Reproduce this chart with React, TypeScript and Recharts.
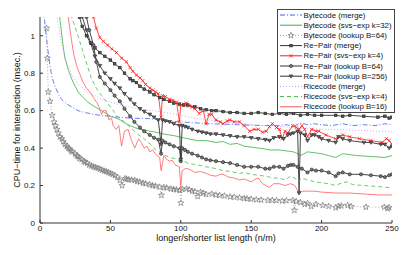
import React from 'react';
import { LineChart, Line, XAxis, YAxis, Legend } from 'recharts';

type Pt = [number, number];

const xTicks = [0, 50, 100, 150, 200, 250];
const yTicks = [0, 0.2, 0.4, 0.6, 0.8, 1];

const seriesNames = [
  'Bytecode (merge)',
  'Bytecode (svs−exp k=32)',
  'Bytecode (lookup B=64)',
  'Re−Pair (merge)',
  'Re−Pair (svs−exp k=4)',
  'Re−Pair (lookup B=64)',
  'Re−Pair (lookup B=256)',
  'Ricecode (merge)',
  'Ricecode (svs−exp k=4)',
  'Ricecode (lookup B=16)',
];

// [n/m, msec]
const bytecodeMerge: Pt[] = [[2.2,1.3],[3,1.1],[4.7,0.98],[6,0.9],[7.1,0.84],[8.5,0.78],[10.6,0.73],[13,0.69],[15.4,0.66],[19,0.635],[22.5,0.62],[27,0.6],[31.9,0.59],[38,0.58],[43.7,0.574],[50,0.57],[55,0.565],[65,0.56],[78,0.557],[90,0.545],[100,0.54],[110,0.535],[118,0.53],[130,0.528],[140,0.525],[150,0.522],[160,0.52],[170,0.52],[175,0.525],[180,0.515],[185,0.535],[190,0.525],[195,0.53],[200,0.525],[207,0.52],[215,0.53],[222,0.52],[230,0.525],[238,0.52],[245,0.53],[250,0.525]];

const bytecodeSvs: Pt[] = [[12,1.3],[14,1.1],[16,0.97],[17.7,0.88],[20,0.82],[22.5,0.77],[25,0.73],[27,0.7],[30,0.675],[34,0.645],[38,0.625],[43.7,0.6],[47,0.585],[50,0.57],[54,0.56],[57,0.55],[60,0.535],[64,0.52],[67,0.51],[71,0.5],[75,0.495],[78,0.49],[82,0.485],[85,0.48],[88,0.475],[92,0.47],[96,0.465],[99,0.46],[102,0.455],[105,0.45],[112,0.44],[118,0.44],[125,0.43],[130,0.435],[135,0.42],[140,0.425],[145,0.41],[150,0.405],[155,0.4],[160,0.395],[163,0.39],[170,0.39],[175,0.385],[180,0.38],[183,0.37],[185,0.36],[190,0.38],[195,0.375],[200,0.37],[205,0.36],[210,0.35],[215,0.37],[225,0.36],[235,0.355],[245,0.35],[250,0.36]];

const bytecodeLookup: Pt[] = [[4.7,1.04],[5.2,0.88],[5.9,0.7],[7.1,0.65],[8.7,0.575],[10,0.54],[11,0.52],[12,0.5],[13,0.48],[14.2,0.46],[15.5,0.45],[16.5,0.435],[17.7,0.42],[19,0.41],[20,0.4],[21,0.395],[22,0.385],[23,0.38],[24.8,0.37],[26,0.36],[27,0.355],[28,0.345],[29.5,0.34],[31,0.33],[32,0.325],[33.5,0.32],[35,0.31],[36.5,0.305],[38,0.3],[39.5,0.297],[41,0.293],[42.5,0.288],[44,0.283],[45.5,0.278],[47,0.275],[48.5,0.27],[50,0.265],[51.5,0.26],[53.2,0.254],[55,0.245],[56.7,0.228],[58.3,0.2],[60.2,0.237],[61.5,0.235],[63,0.232],[65,0.23],[67.3,0.228],[69,0.222],[70.9,0.219],[73.2,0.213],[75,0.21],[78,0.205],[80,0.2],[82,0.198],[85,0.192],[86.2,0.148],[88,0.19],[90,0.188],[93,0.182],[95,0.18],[97,0.178],[99.2,0.174],[100,0.107],[101,0.18],[104,0.183],[106,0.178],[108,0.17],[110,0.168],[112,0.142],[114,0.165],[116,0.16],[118,0.153],[122,0.155],[125,0.15],[127.6,0.148],[131,0.145],[135,0.14],[138,0.138],[141.7,0.135],[145,0.132],[147,0.13],[150,0.128],[153.6,0.125],[157,0.123],[161.8,0.121],[165,0.122],[168,0.12],[172,0.118],[175,0.12],[179.5,0.121],[180.7,0.068],[182,0.115],[185,0.11],[188,0.1],[190,0.105],[192.6,0.089],[196,0.1],[200.8,0.094],[205,0.09],[210,0.082],[212,0.09],[214,0.092],[218.5,0.094],[221,0.088],[231.5,0.085],[244.5,0.085],[246.9,0.077],[248,0.083]];

const rePairMerge: Pt[] = [[26,1.25],[28,1.1],[30,1.05],[33,1.0],[36,0.96],[39,0.935],[42.5,0.91],[46,0.89],[50,0.87],[53,0.85],[56.7,0.83],[60,0.8],[64,0.77],[66,0.76],[68.5,0.75],[71,0.73],[74,0.715],[78,0.7],[81,0.685],[85,0.67],[88,0.66],[92,0.65],[95,0.64],[99,0.635],[102,0.63],[105,0.63],[110,0.62],[114,0.61],[118,0.605],[122,0.6],[125,0.6],[130,0.595],[135,0.59],[140,0.59],[145,0.585],[150,0.585],[155,0.59],[160,0.585],[165,0.58],[170,0.585],[175,0.58],[180,0.585],[185,0.575],[190,0.58],[195,0.575],[200,0.575],[210,0.575],[215,0.57],[220,0.575],[230,0.57],[240,0.565],[245,0.57],[248,0.56],[250,0.565]];

const rePairSvs: Pt[] = [[36,1.25],[38,1.1],[40,1.04],[42.5,0.99],[45,0.97],[48,0.95],[51,0.93],[54.3,0.91],[58,0.88],[61.4,0.86],[64,0.83],[66,0.81],[68.5,0.79],[71,0.775],[73,0.76],[75,0.74],[78,0.72],[80,0.71],[82,0.7],[84,0.69],[86,0.565],[87,0.68],[89,0.675],[92,0.66],[94.5,0.655],[97,0.645],[99,0.54],[100,0.63],[102,0.635],[104,0.64],[106,0.625],[108,0.62],[110,0.61],[113,0.585],[116,0.6],[118,0.53],[120,0.58],[122,0.58],[125,0.55],[128,0.54],[130,0.53],[133,0.545],[135,0.55],[138,0.54],[141.7,0.54],[145,0.52],[149,0.49],[152,0.5],[155,0.5],[158,0.485],[160.7,0.49],[163,0.515],[165,0.53],[168,0.51],[170,0.5],[172,0.45],[174,0.49],[176,0.48],[179.5,0.52],[182,0.51],[184,0.5],[186,0.52],[188,0.5],[190,0.46],[193,0.5],[196,0.49],[198,0.49],[203,0.47],[210,0.45],[215,0.47],[220,0.46],[227,0.45],[235,0.44],[243,0.43],[246,0.45],[248,0.44],[250,0.42]];

const rePairLookup64: Pt[] = [[31,1.3],[33,1.1],[35,1.03],[38,0.95],[40,0.86],[42.5,0.78],[46,0.745],[50,0.71],[53,0.68],[56.7,0.65],[60,0.61],[64,0.57],[67,0.54],[71,0.51],[74,0.49],[78,0.47],[81,0.455],[84,0.445],[86,0.37],[87,0.44],[89,0.43],[92,0.42],[95,0.41],[99,0.4],[100,0.33],[101,0.4],[103,0.39],[105,0.38],[108,0.37],[112,0.36],[115,0.35],[118,0.34],[121,0.335],[125,0.33],[130,0.325],[135,0.32],[140,0.31],[145,0.3],[150,0.3],[155,0.3],[160,0.29],[163,0.29],[166,0.3],[170,0.3],[173,0.29],[176,0.305],[178,0.31],[180,0.31],[183,0.3],[186,0.29],[190,0.27],[193,0.285],[196,0.28],[200,0.28],[205,0.27],[210,0.25],[212,0.265],[215,0.27],[220,0.26],[228,0.26],[235,0.255],[242,0.25],[245,0.245],[248,0.255],[250,0.26]];

const rePairLookup256: Pt[] = [[28,1.3],[30,1.1],[33,1.03],[36,0.96],[39,0.89],[42.5,0.84],[46,0.8],[50,0.77],[53,0.745],[56.7,0.72],[60,0.69],[64,0.66],[67,0.635],[71,0.61],[74,0.595],[78,0.58],[81,0.565],[84,0.55],[86,0.42],[87,0.55],[89,0.545],[92,0.54],[95,0.53],[99,0.52],[100,0.34],[101,0.52],[103,0.515],[105,0.51],[108,0.5],[112,0.49],[115,0.485],[118,0.48],[121,0.475],[125,0.475],[130,0.47],[135,0.465],[140,0.46],[145,0.46],[150,0.455],[155,0.45],[160,0.445],[163,0.44],[166,0.455],[170,0.46],[173,0.45],[176,0.47],[178,0.475],[180,0.48],[183,0.49],[184,0.16],[185,0.48],[188,0.47],[190,0.44],[193,0.47],[195,0.47],[198,0.46],[200,0.45],[205,0.44],[210,0.43],[212,0.46],[215,0.45],[220,0.44],[230,0.43],[235,0.43],[242,0.42],[245,0.42],[248,0.4],[250,0.41]];

const riceMerge: Pt[] = [[10,1.3],[12,1.1],[15,0.97],[18,0.88],[22,0.8],[27,0.74],[34,0.7],[40,0.675],[44,0.66],[50,0.645],[55,0.635],[60,0.625],[70,0.61],[80,0.6],[90,0.59],[100,0.575],[110,0.56],[120,0.55],[130,0.54],[140,0.53],[150,0.525],[160,0.52],[170,0.515],[180,0.51],[190,0.505],[200,0.5],[210,0.5],[220,0.495],[230,0.495],[240,0.49],[250,0.49]];

const riceSvs: Pt[] = [[20,1.3],[22.5,1.1],[27,1.0],[31.9,0.88],[36.6,0.77],[40,0.72],[43.7,0.68],[47,0.65],[50,0.62],[53,0.59],[55.5,0.565],[58,0.55],[60,0.54],[64,0.51],[67,0.49],[70,0.47],[74,0.45],[77,0.43],[80,0.41],[82,0.39],[85,0.38],[88,0.365],[92,0.35],[95,0.345],[99,0.335],[102,0.33],[105,0.32],[108,0.315],[112,0.31],[115,0.305],[118,0.3],[122,0.295],[125,0.29],[130,0.28],[135,0.275],[141.7,0.265],[145,0.27],[150,0.26],[155,0.255],[160,0.25],[163,0.245],[167,0.24],[170,0.24],[174,0.23],[178,0.25],[181,0.24],[183,0.22],[186,0.24],[190,0.23],[195,0.22],[200,0.215],[205,0.21],[210,0.2],[213,0.21],[218,0.22],[222,0.205],[230,0.2],[240,0.195],[245,0.19],[250,0.19]];

const riceLookup: Pt[] = [[18,1.3],[20,1.1],[22.5,0.97],[24,0.9],[26,0.84],[28,0.8],[30.7,0.75],[33,0.72],[35.4,0.7],[38,0.67],[40.2,0.645],[42,0.62],[43.7,0.58],[45,0.6],[47,0.6],[49,0.55],[50.8,0.56],[52,0.52],[54,0.5],[56,0.52],[57.9,0.41],[60,0.49],[62.6,0.5],[65,0.44],[67.3,0.4],[70,0.45],[72,0.43],[74,0.4],[76,0.41],[78,0.38],[80,0.39],[83,0.36],[85,0.35],[86,0.28],[88,0.36],[90,0.34],[92,0.33],[94,0.335],[96,0.31],[99,0.3],[100,0.19],[101,0.28],[103,0.29],[105,0.29],[108,0.28],[110,0.27],[114,0.275],[118,0.265],[121,0.255],[125,0.25],[128,0.26],[130,0.26],[134,0.245],[138,0.24],[141.7,0.23],[145,0.235],[150,0.22],[153,0.235],[155,0.24],[158,0.21],[163,0.19],[166,0.21],[170,0.21],[174,0.2],[178,0.21],[181,0.2],[184,0.16],[186,0.17],[190,0.17],[195,0.17],[200,0.165],[210,0.16],[220,0.16],[230,0.155],[240,0.15],[250,0.15]];

const seriesData = [bytecodeMerge, bytecodeSvs, bytecodeLookup, rePairMerge, rePairSvs, rePairLookup64, rePairLookup256, riceMerge, riceSvs, riceLookup];

type Marker = 'none' | 'star' | 'square' | 'x' | 'circle' | 'triangle';
const seriesStyle: { color: string; dash?: string; marker: Marker }[] = [
  { color: '#3d5cff', dash: '5 2 1 2', marker: 'none' },
  { color: '#3cb043', marker: 'none' },
  { color: '#9a9a9a', dash: '1 2', marker: 'star' },
  { color: '#333333', marker: 'square' },
  { color: '#ff1a1a', marker: 'x' },
  { color: '#333333', marker: 'circle' },
  { color: '#333333', marker: 'triangle' },
  { color: '#c48cff', dash: '1 2', marker: 'none' },
  { color: '#44bb44', dash: '4 3', marker: 'none' },
  { color: '#ff5c5c', marker: 'none' },
];

const FONT = '"Liberation Sans", Arial, Helvetica, sans-serif';

function drawMarker(kind: Marker, cx: number, cy: number) {
  switch (kind) {
    case 'star': {
      const pts: string[] = [];
      for (let i = 0; i < 10; i++) {
        const r = i % 2 === 0 ? 3.2 : 1.3;
        const a = -Math.PI / 2 + (i * Math.PI) / 5;
        pts.push(`${cx + r * Math.cos(a)},${cy + r * Math.sin(a)}`);
      }
      return <polygon points={pts.join(' ')} fill="none" stroke="#7a7a7a" strokeWidth={0.7} />;
    }
    case 'square':
      return <rect x={cx - 1.3} y={cy - 1.3} width={2.6} height={2.6} fill="#555" stroke="#222" strokeWidth={0.6} />;
    case 'x':
      return (
        <path
          d={`M${cx - 1.6},${cy - 1.6}L${cx + 1.6},${cy + 1.6}M${cx - 1.6},${cy + 1.6}L${cx + 1.6},${cy - 1.6}`}
          stroke="#ff1a1a"
          strokeWidth={0.8}
        />
      );
    case 'circle':
      return <circle cx={cx} cy={cy} r={1.6} fill="#777" stroke="#222" strokeWidth={0.6} />;
    case 'triangle':
      return <path d={`M${cx - 1.9},${cy - 1.3}L${cx + 1.9},${cy - 1.3}L${cx},${cy + 1.9}Z`} fill="#666" stroke="#222" strokeWidth={0.6} />;
    default:
      return null;
  }
}

const LegendBox = () => (
  <svg width={118} height={104} style={{ display: 'block' }}>
    <rect x={0.5} y={0.5} width={117} height={103} fill="#fff" stroke="#444" strokeWidth={1} />
    {seriesNames.map((name, i) => {
      const s = seriesStyle[i];
      const y = 6 + i * 10.2;
      return (
        <g key={name}>
          <line x1={3} x2={25} y1={y} y2={y} stroke={s.color} strokeWidth={1} strokeDasharray={s.dash} />
          {drawMarker(s.marker, 14, y)}
          <text x={26.5} y={y} fontSize={7.8} fontFamily={FONT} fill="#111" dominantBaseline="central">
            {name}
          </text>
        </g>
      );
    })}
  </svg>
);

export default function App() {
  return (
    <div style={{ position: 'absolute', left: 0, top: 0, background: '#fff' }}>
      <LineChart width={407} height={255} margin={{ top: 17, right: 15, bottom: 0, left: 0 }}>
        <XAxis
          type="number"
          dataKey="x"
          domain={[0, 250]}
          ticks={xTicks}
          allowDataOverflow
          height={32}
          stroke="#333"
          tickSize={-3}
          tickMargin={5}
          tick={{ fontSize: 8, fill: '#111', fontFamily: FONT }}
          label={() => (
            <text x={216} y={238} textAnchor="middle" dominantBaseline="central" fontSize={9} fontFamily={FONT} fill="#111">
              longer/shorter list length (n/m)
            </text>
          )}
        />
        <YAxis
          type="number"
          domain={[0, 1.1]}
          ticks={yTicks}
          allowDataOverflow
          width={40}
          stroke="#333"
          tickSize={-3}
          tickMargin={8}
          tick={{ fontSize: 8, fill: '#111', fontFamily: FONT }}
          label={() => (
            <text
              x={17}
              y={120}
              transform="rotate(-90 17 120)"
              textAnchor="middle"
              dominantBaseline="central"
              fontSize={9}
              fontFamily={FONT}
              fill="#111"
            >
              CPU−time for intersection (msec.)
            </text>
          )}
        />
        {seriesData.map((pts, i) => {
          const s = seriesStyle[i];
          return (
            <Line
              key={seriesNames[i]}
              name={seriesNames[i]}
              data={pts.map(([x, y]) => ({ x, y }))}
              dataKey="y"
              type="linear"
              stroke={s.color}
              strokeWidth={s.color === '#333333' ? 0.9 : 0.8}
              strokeDasharray={s.dash}
              isAnimationActive={false}
              activeDot={false}
              dot={
                s.marker === 'none'
                  ? false
                  : (p: any) => <g key={`m-${i}-${p.index}`}>{drawMarker(s.marker, p.cx, p.cy)}</g>
              }
            />
          );
        })}
        <Legend
          layout="horizontal"
          verticalAlign="middle"
          align="center"
          wrapperStyle={{ left: 277, top: 9, width: 118, height: 104 }}
          content={() => <LegendBox />}
        />
      </LineChart>
    </div>
  );
}
